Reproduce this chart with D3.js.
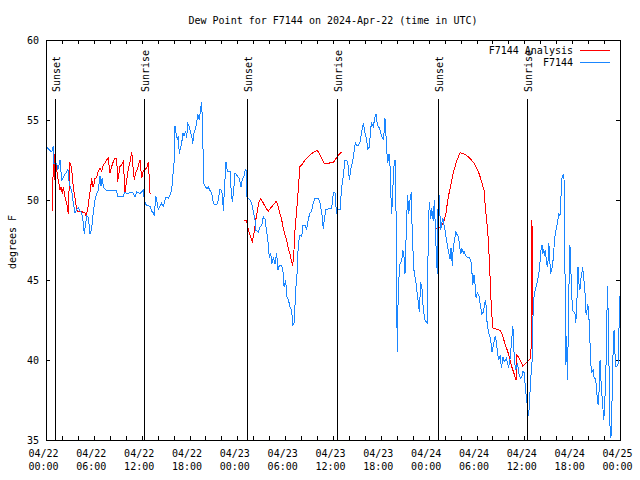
<!DOCTYPE html>
<html><head><meta charset="utf-8">
<script src="https://cdn.jsdelivr.net/npm/d3@7"></script>
<style>
html,body{margin:0;padding:0;background:#fff;}
svg{display:block;}
text{font-family:"DejaVu Sans Mono","Liberation Mono",monospace;font-size:10px;fill:#000;}
</style></head>
<body>
<svg id="chart" width="640" height="480"></svg>
<script>
// ---- data (hours since 2024-04-22 00:00 UTC, dew point in °F) ----
const titleText = "Dew Point for F7144 on 2024-Apr-22 (time in UTC)";
const yLabel = "degrees F";
const seriesNames = ["F7144 Analysis", "F7144"];
const seriesColors = ["#ff0000", "#1a86ff"];
const yTicks = [35, 40, 45, 50, 55, 60];
const xLabelHours = [0, 6, 12, 18, 24, 30, 36, 42, 48, 54, 60, 66, 72];
const eventHours = [1.17, 12.33, 25.15, 36.46, 49.21, 60.37];
const eventLabels = ["Sunset", "Sunrise", "Sunset", "Sunrise", "Sunset", "Sunrise"];

const obsSeries = [
[0.13,53.3],[0.29,53.2],[0.72,53.0],[0.92,53.4],[1.0,52.3],[1.34,52.3],[1.5,51.9],[1.76,52.5],[1.97,51.25],[2.38,51.6],
[2.76,51.9],[2.92,51.0],[3.22,50.6],[3.42,49.8],[3.64,49.2],[3.85,49.4],[4.05,49.5],[4.27,49.3],[4.48,49.2],[4.68,48.6],
[4.8,47.9],[5.1,49.0],[5.31,48.9],[5.52,47.9],[5.73,48.2],[5.93,49.2],[6.15,50.0],[6.36,50.4],[6.56,50.6],[6.77,51.5],
[6.9,50.9],[7.06,51.4],[7.19,50.8],[7.61,50.6],[8.87,50.6],[8.94,50.25],[9.7,50.25],[9.91,50.5],[10.12,50.4],[10.88,50.5],
[11.16,50.2],[11.38,50.5],[11.79,50.4],[12.2,50.6],[12.33,50.0],[12.54,49.7],[13.05,49.6],[13.26,49.3],[13.46,49.2],[13.59,49.0],
[13.76,50.25],[13.89,50.0],[14.09,49.4],[14.51,49.8],[14.71,49.6],[15.05,50.2],[15.34,50.1],[15.64,50.4],[15.84,51.0],[15.97,51.9],
[16.09,52.5],[16.18,54.6],[16.31,54.2],[16.47,53.8],[16.6,54.0],[16.72,52.9],[16.9,53.3],[17.02,53.5],[17.15,54.2],[17.31,54.0],
[17.52,54.3],[17.65,53.9],[17.78,54.8],[17.98,54.6],[18.15,54.2],[18.28,54.0],[18.4,53.5],[18.57,54.2],[18.69,54.4],[18.9,54.8],
[19.03,55.4],[19.23,55.0],[19.41,55.8],[19.53,56.1],[19.61,54.9],[19.73,52.5],[19.82,51.0],[20.16,50.7],[20.36,50.8],[20.57,50.6],
[20.79,50.4],[20.99,49.8],[21.2,49.7],[21.41,49.7],[21.61,50.0],[21.83,50.7],[22.04,50.6],[22.16,50.1],[22.24,49.3],[22.37,50.6],
[22.58,52.4],[22.74,51.8],[23.08,51.8],[23.21,50.7],[23.37,49.9],[23.54,50.6],[23.71,51.7],[24.0,51.5],[24.25,51.35],[24.46,50.8],
[24.62,51.3],[24.84,51.5],[24.96,51.8],[25.09,51.9],[25.18,50.2],[25.59,50.0],[25.8,49.8],[26.0,49.3],[26.22,48.75],[26.34,48.1],
[26.63,48.0],[26.84,48.3],[27.06,48.4],[27.26,48.95],[27.47,48.8],[27.69,48.0],[27.89,47.2],[28.01,46.4],[28.19,46.7],[28.31,46.0],
[28.51,46.4],[28.73,46.0],[28.94,46.7],[29.06,45.6],[29.27,45.9],[29.57,45.9],[29.77,45.4],[29.86,44.6],[30.07,45.0],[30.19,44.0],
[30.39,43.8],[30.61,43.3],[30.82,43.1],[30.95,42.2],[31.11,42.3],[31.23,43.4],[31.36,44.6],[31.52,45.6],[31.65,47.3],[31.86,47.8],
[32.08,47.7],[32.2,48.4],[32.49,48.4],[32.7,48.2],[32.9,48.8],[33.12,49.2],[33.33,49.3],[33.46,49.7],[33.74,50.1],[34.16,50.1],
[34.37,49.8],[34.5,49.4],[34.66,48.95],[34.78,48.2],[34.91,48.8],[35.12,49.4],[35.84,49.5],[35.96,50.2],[36.13,50.5],[36.29,50.4],
[36.42,49.2],[36.63,49.4],[36.88,49.4],[37.09,50.8],[37.29,51.5],[37.51,52.5],[37.72,52.5],[37.92,52.1],[38.05,51.25],[38.22,51.9],
[38.47,52.4],[38.64,53.0],[38.8,53.6],[38.98,53.4],[39.18,53.4],[39.39,53.6],[39.6,54.3],[39.8,54.8],[40.02,54.2],[40.23,53.7],
[40.36,53.2],[40.56,53.3],[40.73,54.5],[40.86,54.8],[41.06,54.6],[41.27,55.2],[41.4,55.4],[41.56,54.7],[41.81,54.5],[42.11,54.0],
[42.31,53.75],[42.44,54.4],[42.52,55.1],[42.61,54.4],[42.74,53.1],[42.86,52.3],[43.03,52.9],[43.15,52.1],[43.28,50.1],[43.36,49.1],
[43.49,50.6],[43.65,52.1],[43.78,52.5],[43.9,49.6],[43.99,43.5],[44.07,40.5],[44.19,44.6],[44.41,46.0],[44.62,46.2],[44.75,46.9],
[44.91,46.4],[45.03,45.4],[45.25,49.0],[45.37,50.3],[45.5,49.1],[45.66,50.0],[45.82,50.5],[45.95,47.7],[46.16,45.6],[46.41,44.8],
[46.7,43.6],[46.83,43.0],[47.0,44.9],[47.17,44.4],[47.33,43.1],[47.54,42.5],[47.83,42.3],[47.95,48.0],[48.08,49.9],[48.26,48.8],
[48.38,49.5],[48.58,48.7],[48.71,50.0],[48.88,47.7],[49.01,46.0],[49.09,45.4],[49.21,51.25],[49.3,50.3],[49.51,48.1],[49.76,48.9],
[50.05,48.1],[50.34,47.2],[50.55,46.6],[50.68,46.3],[50.8,47.0],[50.97,45.9],[51.09,47.1],[51.22,47.4],[51.39,48.0],[51.6,47.8],
[51.72,47.7],[51.85,47.3],[52.02,46.6],[52.15,47.0],[52.35,46.7],[52.44,46.8],[52.65,46.5],[52.85,46.4],[53.1,46.4],[53.28,46.25],
[53.4,45.7],[53.53,44.7],[53.69,45.3],[53.82,44.7],[53.95,43.9],[54.11,44.2],[54.33,44.0],[54.45,43.5],[54.66,42.9],[54.86,43.0],
[55.11,43.75],[55.24,43.3],[55.32,42.4],[55.52,41.7],[55.74,41.4],[55.95,40.5],[56.15,41.0],[56.36,41.5],[56.49,41.1],[56.65,40.4],
[56.78,40.0],[56.99,40.3],[57.12,39.5],[57.33,40.2],[57.49,39.9],[57.74,40.1],[57.9,39.8],[58.03,39.5],[58.24,40.2],[58.45,41.5],
[58.57,42.1],[58.65,41.0],[58.78,39.8],[58.95,39.4],[59.16,39.8],[59.28,39.2],[59.5,38.85],[59.71,39.0],[59.84,39.3],[60.0,39.2],
[60.12,38.3],[60.25,37.7],[60.41,37.0],[60.54,36.5],[60.66,37.5],[60.75,38.4],[60.84,39.1],[60.96,39.8],[61.09,42.8],[61.17,43.75],
[61.29,44.2],[61.47,44.6],[61.67,45.0],[61.8,45.3],[61.93,45.9],[62.1,46.9],[62.23,47.2],[62.31,46.6],[62.44,46.9],[62.56,46.5],
[62.65,46.9],[62.77,46.1],[62.94,45.8],[63.07,47.3],[63.15,46.7],[63.28,45.4],[63.49,45.8],[63.62,46.3],[63.79,47.5],[63.91,48.0],
[64.04,48.2],[64.2,48.75],[64.33,49.1],[64.46,49.0],[64.54,49.4],[64.67,51.25],[64.8,51.5],[64.96,51.6],[65.05,50.0],[65.14,42.0],
[65.22,39.7],[65.3,41.5],[65.39,38.75],[65.51,41.5],[65.64,46.0],[65.72,47.2],[65.8,46.25],[65.93,44.2],[66.06,43.1],[66.35,42.9],
[66.44,42.3],[66.56,43.1],[66.73,45.8],[66.85,44.8],[66.98,44.4],[67.07,45.0],[67.19,45.3],[67.32,45.8],[67.45,45.0],[67.57,44.8],
[67.7,43.0],[67.82,42.8],[67.91,43.5],[68.03,43.3],[68.16,42.1],[68.33,39.8],[68.45,39.2],[68.62,39.4],[68.74,38.95],[68.96,38.75],
[69.09,37.9],[69.25,37.2],[69.38,38.1],[69.5,40.0],[69.59,38.95],[69.72,37.9],[69.84,37.1],[69.97,36.25],[70.1,37.5],[70.22,38.95],
[70.35,42.6],[70.43,44.6],[70.56,41.9],[70.68,37.5],[70.76,35.6],[70.86,35.1],[70.98,36.9],[71.06,39.2],[71.19,41.5],[71.27,41.9],
[71.36,40.5],[71.49,39.6],[71.61,39.6],[71.78,39.8],[71.91,42.8],[71.95,43.2],[72.0,44.0]
];

const anaSeries = [
[0.79,49.3],[0.88,51.5],[0.92,52.9],[1.04,51.25],[1.13,52.9],[1.22,52.4],[1.34,51.9],[1.47,51.4],[1.63,51.0],[1.76,50.6],
[1.88,50.8],[2.04,50.4],[2.17,50.8],[2.38,50.2],[2.6,49.8],[2.72,49.4],[2.8,49.1],[2.89,50.6],[2.97,52.4],[3.1,52.2],
[3.22,51.9],[3.35,51.25],[3.42,50.8],[3.55,50.4],[3.76,49.7],[3.93,49.3],[4.48,49.3],[4.68,49.2],[4.89,49.2],[5.02,49.0],
[5.18,49.3],[5.31,49.7],[5.43,50.2],[5.61,50.8],[5.73,51.35],[5.86,50.8],[6.02,51.0],[6.15,51.35],[6.36,51.4],[6.56,51.8],
[6.77,52.0],[6.99,51.8],[7.19,52.2],[7.4,52.3],[7.61,52.5],[7.81,52.6],[8.03,51.7],[8.24,52.1],[8.44,52.4],[8.66,52.6],
[8.87,52.6],[8.99,51.15],[9.16,51.7],[9.28,52.1],[9.5,52.2],[9.7,52.4],[9.91,50.5],[10.12,51.25],[10.32,51.9],[10.54,52.4],
[10.75,53.0],[10.91,52.1],[11.08,51.25],[11.25,51.7],[11.5,52.0],[11.79,52.5],[12.0,51.35],[12.2,51.8],[12.42,51.9],[12.63,52.0],
[12.83,52.4],[12.96,51.25],[13.05,50.4],
[null,null],
[24.84,48.75],[25.18,48.7],[25.38,48.1],[25.59,47.8],[25.88,47.4],[26.09,47.9],[26.31,48.75],[26.51,49.3],[26.72,49.9],[26.93,50.1],
[27.26,49.8],[27.6,49.5],[27.89,49.3],[28.19,49.5],[28.51,49.7],[28.85,49.9],[29.02,49.8],[29.27,49.3],[29.57,48.75],[29.77,48.2],
[29.98,47.8],[30.19,47.5],[30.39,47.0],[30.61,46.6],[30.82,46.1],[30.95,45.9],[31.11,46.9],[31.23,48.1],[31.45,49.4],[31.65,50.7],
[31.86,52.1],[32.08,52.2],[32.49,52.5],[32.9,52.7],[33.33,52.9],[33.62,53.0],[33.96,53.1],[34.16,53.0],[34.58,52.6],[34.87,52.3],
[35.41,52.3],[36.04,52.35],[36.38,52.6],[36.67,52.8],[37.09,53.0],
[null,null],
[48.92,48.2],[49.21,48.25],[49.51,48.3],[49.76,48.5],[49.96,48.75],[50.18,49.2],[50.34,49.8],[50.55,50.4],[50.8,51.0],[51.09,51.7],
[51.43,52.3],[51.72,52.7],[51.93,52.95],[52.35,52.9],[52.85,52.75],[53.19,52.6],[53.53,52.4],[53.82,52.2],[54.11,51.9],[54.36,51.6],
[54.57,51.25],[54.78,50.9],[54.95,50.6],[55.07,49.8],[55.28,48.7],[55.49,47.5],[55.7,45.2],[55.82,43.75],[56.03,42.0],[56.32,41.95],
[56.74,41.9],[57.04,41.8],[57.29,41.5],[57.58,41.0],[57.87,40.6],[58.12,40.2],[58.29,39.8],[58.54,39.4],[58.74,39.1],[58.96,38.75],
[59.04,40.3],[59.25,40.2],[59.46,40.0],[59.67,39.8],[59.8,39.6],[59.96,39.7],[60.17,39.8],[60.37,39.9],[60.58,40.0],[60.83,40.1],
[60.96,48.75],[61.0,42.8]
];

// ---- chart ----
const plot = {left: 46, right: 620, top: 40, bottom: 440};
const t0 = Date.UTC(2024, 3, 22, 0, 0, 0);
const toDate = h => new Date(t0 + h * 3600e3);

const svg = d3.select("#chart");
const x = d3.scaleUtc().domain([toDate(0), toDate(72)]).range([plot.left, plot.right]);
const y = d3.scaleLinear().domain([35, 60]).range([plot.bottom, plot.top]);

// title
svg.append("text").attr("x", (plot.left + plot.right) / 2).attr("y", 24)
  .attr("text-anchor", "middle").text(titleText);

// y label
svg.append("text").attr("transform", "translate(16,242) rotate(-90)")
  .attr("text-anchor", "middle").text(yLabel);

const tickLen = 4;
const minorTicks = d3.range(0, 73, 2).map(toDate);
const majorTicks = xLabelHours.map(toDate);

// bottom axis ticks (inward)
svg.append("g").attr("transform", `translate(0,${plot.bottom})`)
  .call(d3.axisBottom(x).tickValues(minorTicks).tickSize(-tickLen).tickFormat(""))
  .call(g => g.select(".domain").remove());
// top axis ticks (mirror)
svg.append("g").attr("transform", `translate(0,${plot.top})`)
  .call(d3.axisTop(x).tickValues(minorTicks).tickSize(-tickLen).tickFormat(""))
  .call(g => g.select(".domain").remove());
// bottom labels (two lines)
const fmtDate = d3.utcFormat("%m/%d"), fmtTime = d3.utcFormat("%H:%M");
const xLab = svg.append("g").attr("transform", `translate(0,${plot.bottom})`)
  .call(d3.axisBottom(x).tickValues(majorTicks).tickSize(0).tickPadding(0).tickFormat(""))
  .call(g => g.select(".domain").remove());
xLab.selectAll(".tick").each(function(d) {
  const t = d3.select(this).select("text");
  t.attr("fill", "#000").attr("y", 0).attr("dy", null).attr("x", -3);
  t.append("tspan").attr("x", -3).attr("y", 17).text(fmtDate(d));
  t.append("tspan").attr("x", -3).attr("y", 30).text(fmtTime(d));
});
// left axis
svg.append("g").attr("transform", `translate(${plot.left},0)`)
  .call(d3.axisLeft(y).tickValues(yTicks).tickSize(-tickLen).tickPadding(7).tickFormat(d3.format("d")))
  .call(g => g.select(".domain").remove())
  .call(g => g.selectAll("text").attr("fill", "#000"));
// right axis (mirror ticks)
svg.append("g").attr("transform", `translate(${plot.right},0)`)
  .call(d3.axisRight(y).tickValues(yTicks).tickSize(-tickLen).tickFormat(""))
  .call(g => g.select(".domain").remove());

svg.selectAll(".tick line").attr("stroke", "#000").attr("shape-rendering", "crispEdges");
svg.selectAll("g").attr("font-family", null).attr("font-size", null);

// clip
svg.append("clipPath").attr("id", "clip").append("rect")
  .attr("x", plot.left).attr("y", plot.top)
  .attr("width", plot.right - plot.left).attr("height", plot.bottom - plot.top);

const line = d3.line()
  .defined(d => d[1] != null)
  .x(d => x(toDate(d[0])))
  .y(d => y(d[1]));

const dataG = svg.append("g").attr("clip-path", "url(#clip)");
dataG.append("path").datum(anaSeries).attr("d", line)
  .attr("fill", "none").attr("stroke", seriesColors[0]).attr("stroke-width", 1)
  .attr("shape-rendering", "crispEdges");
dataG.append("path").datum(obsSeries).attr("d", line)
  .attr("fill", "none").attr("stroke", seriesColors[1]).attr("stroke-width", 1)
  .attr("shape-rendering", "crispEdges");

// sunrise / sunset markers
const ev = svg.append("g");
eventHours.forEach((h, i) => {
  const ex = Math.round(x(toDate(h))) + 0.5;
  ev.append("line").attr("x1", ex).attr("x2", ex).attr("y1", 99).attr("y2", plot.bottom)
    .attr("stroke", "#000").attr("stroke-width", 1).attr("shape-rendering", "crispEdges");
  ev.append("text").attr("transform", `translate(${ex + 4.5},92) rotate(-90)`)
    .attr("text-anchor", "start").text(eventLabels[i]);
});

// frame
svg.append("rect").attr("x", plot.left + 0.5).attr("y", plot.top + 0.5)
  .attr("width", plot.right - plot.left).attr("height", plot.bottom - plot.top)
  .attr("fill", "none").attr("stroke", "#000").attr("shape-rendering", "crispEdges");

// legend
const legY = [50, 62];
seriesNames.forEach((name, i) => {
  svg.append("text").attr("x", 573).attr("y", legY[i] + 3.5).attr("text-anchor", "end").text(name);
  svg.append("line").attr("x1", 580).attr("x2", 610).attr("y1", legY[i] + 0.5).attr("y2", legY[i] + 0.5)
    .attr("stroke", seriesColors[i]).attr("stroke-width", 1).attr("shape-rendering", "crispEdges");
});
</script>
</body></html>
